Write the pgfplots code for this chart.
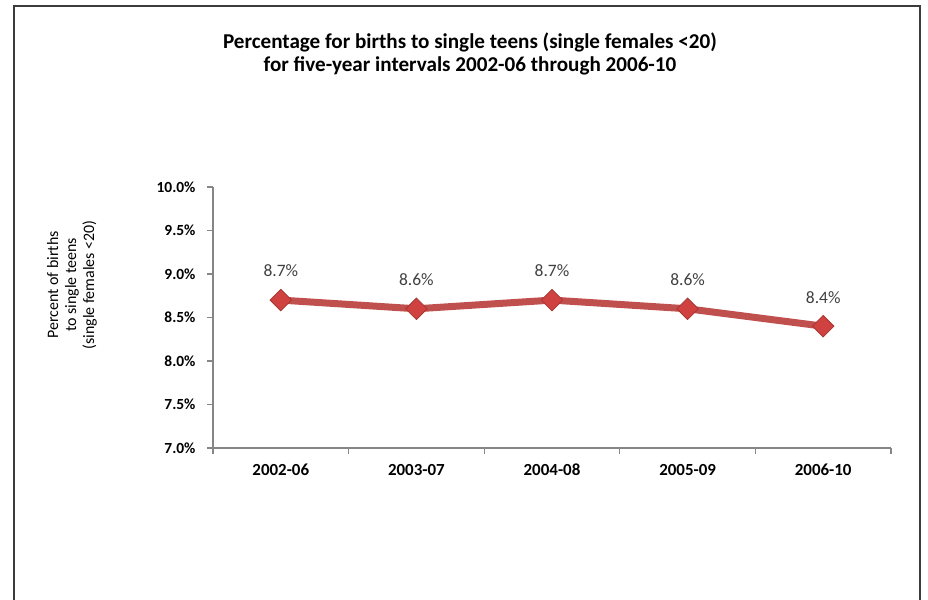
\documentclass[border=0pt]{standalone}
\usepackage{pgfplots}
\pgfplotsset{compat=1.18}
\usepackage{fontspec}
\setmainfont{Carlito}
\definecolor{linered}{RGB}{192,80,77}
\definecolor{markred}{RGB}{208,66,64}
\definecolor{axisgray}{RGB}{134,134,134}
\definecolor{framegray}{RGB}{60,60,60}
\definecolor{labelgray}{RGB}{64,64,64}
\begin{document}
\begin{tikzpicture}
\useasboundingbox (0,0) rectangle (928bp,600bp);
\clip (0,0) rectangle (928bp,600bp);
\draw[framegray, line width=2.5bp] (14bp,-10bp) -- (14bp,594bp) -- (920bp,594bp) -- (920bp,-10bp);
\node[align=center, font=\bfseries\fontsize{21.2}{24}\selectfont] at (470bp,546bp)
  {Percentage for births to single teens (single females <20)\\for five-year intervals 2002-06 through 2006-10};
\node[align=center, rotate=90, font=\fontsize{16}{18}\selectfont] at (72bp,315bp)
  {Percent of births\\to single teens\\(single females <20)};
\begin{axis}[
  at={(213bp,152bp)}, anchor=south west,
  scale only axis, width=678bp, height=261bp,
  xmin=-0.5, xmax=4.5, ymin=7, ymax=10,
  axis lines=left, axis line style={axisgray, line width=1.5bp, -},
  ytick={7,7.5,...,10},
  yticklabel={\pgfmathprintnumber[fixed,fixed zerofill,precision=1]{\tick}\%},
  yticklabel style={font=\bfseries\fontsize{15.5}{16}\selectfont, text=black, xshift=-8bp},
  /pgf/number format/assume math mode=true,
  xtick={-0.5,0.5,...,4.5}, xticklabels={},
  extra x ticks={0,1,2,3,4},
  extra x tick labels={2002-06,2003-07,2004-08,2005-09,2006-10},
  extra x tick style={major tick length=0pt, tick label style={font=\bfseries\fontsize{17}{18}\selectfont, text=black, anchor=center, text height=11bp, text depth=0pt, yshift=-22bp}},
  tick style={axisgray, line width=1.2bp},
  tick align=outside, major tick length=6bp,
  clip=false,
]
\addplot[linered, line width=7bp, mark=square*, mark size=7.6bp,
  mark options={rotate=45, fill=markred, draw=markred!80!black, line width=0.8bp},
  nodes near coords={\pgfmathprintnumber[fixed,fixed zerofill,precision=1]{\pgfplotspointmeta}\%},
  every node near coord/.style={anchor=center, yshift=29bp, font=\fontsize{17.5}{18}\selectfont, text=labelgray},
  point meta=y]
coordinates {(0,8.7) (1,8.6) (2,8.7) (3,8.6) (4,8.4)};
\end{axis}
\end{tikzpicture}
\end{document}
